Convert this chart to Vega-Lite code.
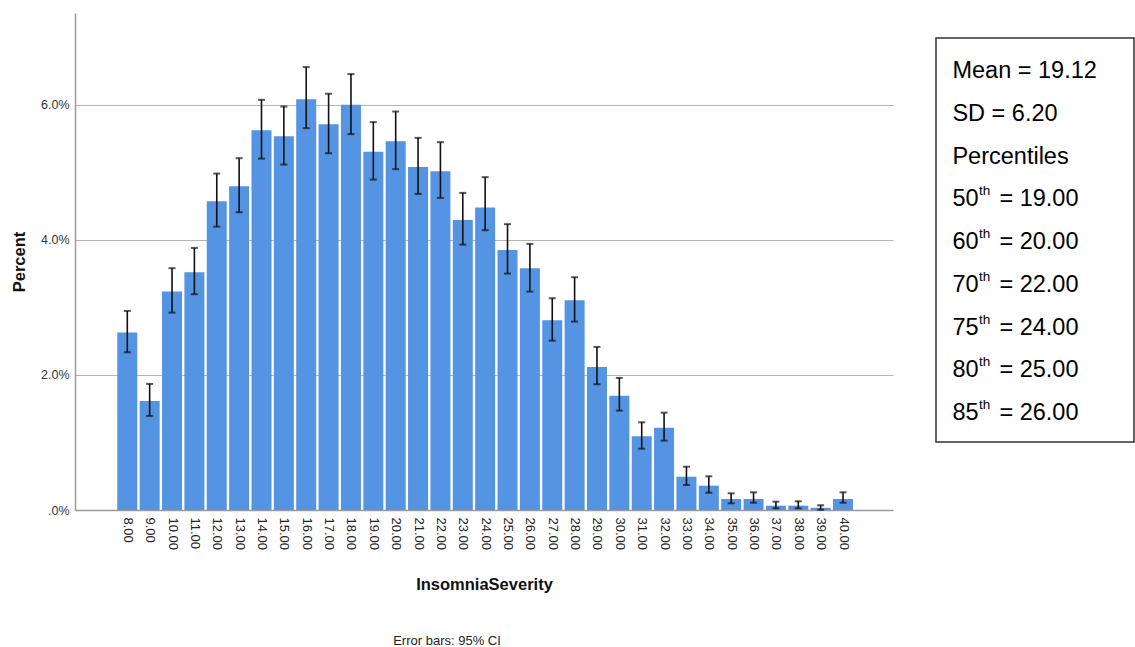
{
  "$schema": "https://vega.github.io/schema/vega-lite/v6.json",
  "padding": {"left": 11, "top": 13, "right": 2, "bottom": 0},
  "config": {"view": {"stroke": null}, "font": "Liberation Sans"},
  "datasets": {
    "bars": [
      {"score": 8, "pct": 2.627, "lo": 2.336, "hi": 2.948},
      {"score": 9, "pct": 1.615, "lo": 1.393, "hi": 1.867},
      {"score": 10, "pct": 3.234, "lo": 2.923, "hi": 3.581},
      {"score": 11, "pct": 3.521, "lo": 3.196, "hi": 3.881},
      {"score": 12, "pct": 4.573, "lo": 4.197, "hi": 4.982},
      {"score": 13, "pct": 4.796, "lo": 4.41, "hi": 5.21},
      {"score": 14, "pct": 5.625, "lo": 5.204, "hi": 6.074},
      {"score": 15, "pct": 5.536, "lo": 5.116, "hi": 5.975},
      {"score": 16, "pct": 6.084, "lo": 5.655, "hi": 6.559},
      {"score": 17, "pct": 5.714, "lo": 5.284, "hi": 6.163},
      {"score": 18, "pct": 6.0, "lo": 5.566, "hi": 6.455},
      {"score": 19, "pct": 5.304, "lo": 4.893, "hi": 5.744},
      {"score": 20, "pct": 5.462, "lo": 5.047, "hi": 5.901},
      {"score": 21, "pct": 5.081, "lo": 4.681, "hi": 5.511},
      {"score": 22, "pct": 5.018, "lo": 4.622, "hi": 5.447},
      {"score": 23, "pct": 4.296, "lo": 3.93, "hi": 4.696},
      {"score": 24, "pct": 4.481, "lo": 4.144, "hi": 4.929},
      {"score": 25, "pct": 3.852, "lo": 3.501, "hi": 4.233},
      {"score": 26, "pct": 3.581, "lo": 3.234, "hi": 3.941},
      {"score": 27, "pct": 2.81, "lo": 2.508, "hi": 3.136},
      {"score": 28, "pct": 3.107, "lo": 2.79, "hi": 3.447},
      {"score": 29, "pct": 2.119, "lo": 1.862, "hi": 2.415},
      {"score": 30, "pct": 1.693, "lo": 1.471, "hi": 1.956},
      {"score": 31, "pct": 1.092, "lo": 0.908, "hi": 1.299},
      {"score": 32, "pct": 1.219, "lo": 1.027, "hi": 1.441},
      {"score": 33, "pct": 0.493, "lo": 0.37, "hi": 0.641},
      {"score": 34, "pct": 0.36, "lo": 0.256, "hi": 0.499},
      {"score": 35, "pct": 0.163, "lo": 0.099, "hi": 0.247},
      {"score": 36, "pct": 0.163, "lo": 0.108, "hi": 0.262},
      {"score": 37, "pct": 0.064, "lo": 0.025, "hi": 0.123},
      {"score": 38, "pct": 0.064, "lo": 0.025, "hi": 0.129},
      {"score": 39, "pct": 0.032, "lo": 0.004, "hi": 0.07},
      {"score": 40, "pct": 0.163, "lo": 0.108, "hi": 0.262}
    ],
    "stats": [
      {"row": 0, "main": "Mean = 19.12"},
      {"row": 1, "main": "SD = 6.20"},
      {"row": 2, "main": "Percentiles"},
      {"row": 3, "main": "50", "sup": "th", "rest": "= 19.00"},
      {"row": 4, "main": "60", "sup": "th", "rest": "= 20.00"},
      {"row": 5, "main": "70", "sup": "th", "rest": "= 22.00"},
      {"row": 6, "main": "75", "sup": "th", "rest": "= 24.00"},
      {"row": 7, "main": "80", "sup": "th", "rest": "= 25.00"},
      {"row": 8, "main": "85", "sup": "th", "rest": "= 26.00"}
    ]
  },
  "spacing": 42,
  "hconcat": [
    {
      "width": 818,
      "height": 497,
      "data": {"name": "bars"},
      "title": {
        "text": "Error bars: 95% CI",
        "orient": "bottom",
        "anchor": "middle",
        "dx": -37,
        "offset": 42,
        "fontSize": 13,
        "fontWeight": "normal",
        "color": "#222222",
        "font": "Liberation Sans"
      },
      "encoding": {
        "x": {
          "field": "score",
          "type": "quantitative",
          "title": "InsomniaSeverity",
          "scale": {"domain": [5.662, 42.235], "nice": false, "zero": false, "padding": 0},
          "axis": {
            "values": [8, 9, 10, 11, 12, 13, 14, 15, 16, 17, 18, 19, 20, 21, 22, 23, 24, 25, 26, 27, 28, 29, 30, 31, 32, 33, 34, 35, 36, 37, 38, 39, 40],
            "grid": false,
            "labelAngle": 90,
            "labelAlign": "left",
            "labelBaseline": "middle",
            "labelFlush": false,
            "labelOverlap": false,
            "labelExpr": "format(datum.value, '.2f')",
            "labelFontSize": 13,
            "labelColor": "#222222",
            "labelPadding": 7,
            "ticks": false,
            "domainColor": "#9a9a9a",
            "domainWidth": 1.5,
            "titleFontSize": 16.5,
            "titleFontWeight": "bold",
            "titleColor": "#111111",
            "titlePadding": 27
          }
        }
      },
      "layer": [
        {
          "mark": {"type": "bar", "color": "#5594E2", "width": 20},
          "encoding": {
            "y": {
              "field": "pct",
              "type": "quantitative",
              "title": "Percent",
              "scale": {"domain": [0, 7.36], "nice": false},
              "axis": {
                "values": [0, 2, 4, 6],
                "labelExpr": "datum.value == 0 ? '.0%' : format(datum.value, '.1f') + '%'",
                "labelFontSize": 12.5,
                "labelColor": "#333333",
                "labelPadding": 6,
                "ticks": false,
                "grid": true,
                "gridColor": "#b4b4b4",
                "gridWidth": 1,
                "domainColor": "#9a9a9a",
                "domainWidth": 1.5,
                "titleFontSize": 16.5,
                "titleFontWeight": "bold",
                "titleColor": "#111111",
                "titlePadding": 13
              }
            }
          }
        },
        {
          "mark": {"type": "rule", "color": "#111111", "strokeWidth": 1.6},
          "encoding": {
            "y": {"field": "lo", "type": "quantitative", "title": "Percent"},
            "y2": {"field": "hi"}
          }
        },
        {
          "mark": {"type": "tick", "orient": "horizontal", "color": "#111111", "size": 7, "thickness": 2},
          "encoding": {
            "y": {"field": "hi", "type": "quantitative", "title": "Percent"}
          }
        },
        {
          "mark": {"type": "tick", "orient": "horizontal", "color": "#111111", "size": 7, "thickness": 2},
          "encoding": {
            "y": {"field": "lo", "type": "quantitative", "title": "Percent"}
          }
        }
      ]
    },
    {
      "width": 198,
      "height": 497,
      "data": {"name": "stats"},
      "layer": [
        {
          "data": {"values": [{"x0": 0, "x1": 1, "y0": -0.772, "y1": 8.678}]},
          "mark": {"type": "rect", "fill": "transparent", "stroke": "#333333", "strokeWidth": 1.5},
          "encoding": {
            "x": {"field": "x0", "type": "quantitative", "scale": {"domain": [0, 1]}, "axis": null},
            "x2": {"field": "x1"},
            "y": {"field": "y0", "type": "quantitative", "scale": {"domain": [-1.357, 10.269], "reverse": true, "nice": false, "zero": false}, "axis": null},
            "y2": {"field": "y1"}
          }
        },
        {
          "mark": {"type": "text", "align": "left", "baseline": "middle", "fontSize": 23.5, "color": "#000000", "font": "Liberation Sans"},
          "encoding": {
            "x": {"datum": 0.083, "type": "quantitative"},
            "y": {"field": "row", "type": "quantitative"},
            "text": {"field": "main"}
          }
        },
        {
          "transform": [{"filter": "isValid(datum.sup)"}],
          "mark": {"type": "text", "align": "left", "baseline": "middle", "fontSize": 13.5, "dx": 26.5, "dy": -8, "color": "#000000", "font": "Liberation Sans"},
          "encoding": {
            "x": {"datum": 0.083, "type": "quantitative"},
            "y": {"field": "row", "type": "quantitative"},
            "text": {"field": "sup"}
          }
        },
        {
          "transform": [{"filter": "isValid(datum.rest)"}],
          "mark": {"type": "text", "align": "left", "baseline": "middle", "fontSize": 23.5, "dx": 47, "color": "#000000", "font": "Liberation Sans"},
          "encoding": {
            "x": {"datum": 0.083, "type": "quantitative"},
            "y": {"field": "row", "type": "quantitative"},
            "text": {"field": "rest"}
          }
        }
      ]
    }
  ]
}
